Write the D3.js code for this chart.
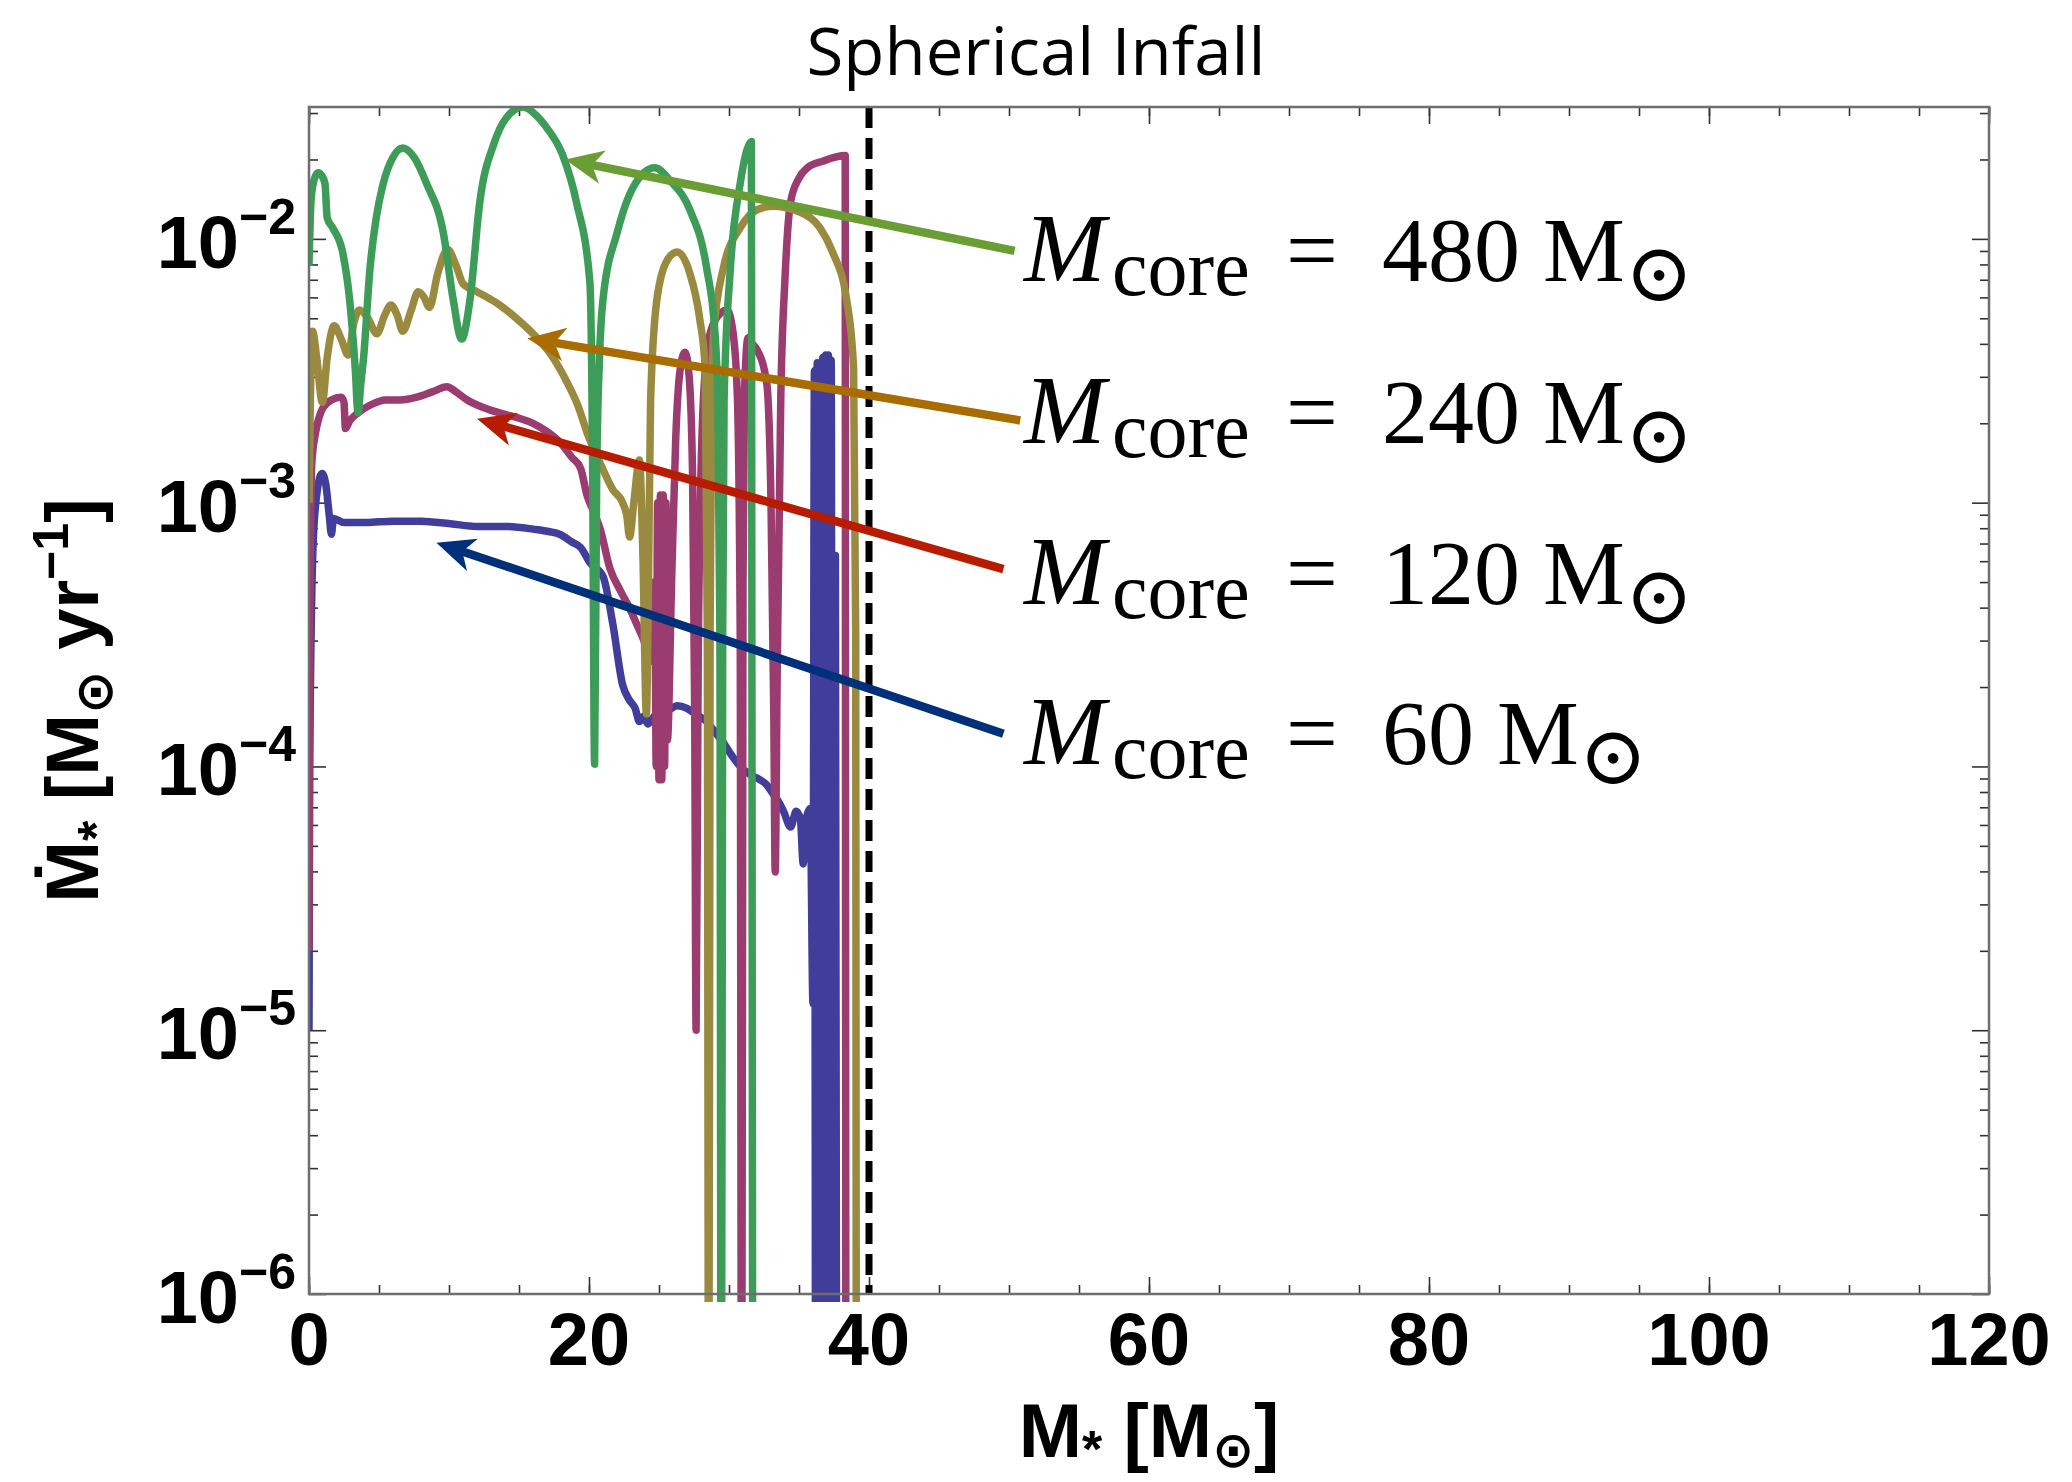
<!DOCTYPE html>
<html>
<head>
<meta charset="utf-8">
<script src="https://cdn.jsdelivr.net/npm/d3@7"></script>
<style>
  body { margin: 0; background: #fff; }
  svg { display: block; }
</style>
</head>
<body>
<div id="chart"></div>
<script>
// accretion rate vs stellar mass: [M* (Msun), Mdot (Msun/yr)]
// 1e-7 means "runs off the bottom of the plot"
const core480 = [[0,7.9e-3],[0.15,1.41e-2],[0.4,1.70e-2],[0.65,1.78e-2],[0.9,1.74e-2],[1.14,1.62e-2],[1.3,1.20e-2],
  [1.7,1.10e-2],[2.4,8.91e-3],[2.9,5.89e-3],[3.3,3.24e-3],[3.5,2.19e-3],[3.7,2.82e-3],[3.9,3.55e-3],[4.36,7.76e-3],
  [4.8,1.20e-2],[5.3,1.62e-2],[6.0,2.04e-2],[6.7,2.21e-2],[7.5,2.04e-2],[8.4,1.62e-2],[9.6,1.05e-2],[10.3,5.89e-3],
  [10.9,4.17e-3],[11.5,5.89e-3],[12.2,1.38e-2],[13.2,2.29e-2],[14.1,2.88e-2],[15.3,3.16e-2],[16.2,2.95e-2],
  [17.0,2.63e-2],[18.1,2.09e-2],[19.1,1.38e-2],[20.07,6.76e-3],[20.25,1.58e-3],[20.4,1.02e-4],[20.55,1.26e-3],
  [20.75,3.55e-3],[21.0,5.89e-3],[22.0,1.05e-2],[23.1,1.55e-2],[24.7,1.86e-2],[25.8,1.66e-2],[27.2,1.29e-2],
  [28.4,7.76e-3],[29.0,4.37e-3],[29.2,2.45e-3],[29.35,3.16e-4],[29.45,1e-7],[29.55,3.16e-4],[29.65,2.45e-3],
  [30.1,7.76e-3],[30.8,1.62e-2],[31.3,2.19e-2],[31.6,2.34e-2],[31.7,1e-7]];

const core240 = [[0,1.0e-3],[0.1,2.51e-3],[0.25,4.47e-3],[0.55,3.55e-3],[0.95,2.40e-3],[1.3,3.55e-3],[1.8,4.68e-3],
  [2.3,4.17e-3],[2.8,3.63e-3],[3.2,4.79e-3],[3.6,5.37e-3],[4.2,5.01e-3],[4.85,4.37e-3],[5.4,5.13e-3],[5.85,5.62e-3],
  [6.3,5.13e-3],[6.7,4.47e-3],[7.3,5.37e-3],[7.8,6.31e-3],[8.2,6.03e-3],[8.6,5.50e-3],[9.2,7.41e-3],[9.9,9.12e-3],
  [10.5,7.94e-3],[11.0,6.76e-3],[12.0,6.31e-3],[13.6,5.62e-3],[15.0,4.90e-3],[16.0,4.37e-3],[17.3,3.63e-3],
  [18.4,2.88e-3],[19.2,2.34e-3],[19.9,1.82e-3],[20.8,1.41e-3],[21.7,1.12e-3],[22.4,1.0e-3],[22.7,8.91e-4],
  [22.9,7.41e-4],[23.2,1.0e-3],[23.6,1.45e-3],[23.85,6.31e-4],[24.1,1.58e-4],[24.25,5.01e-4],[24.4,2.45e-3],
  [24.85,5.89e-3],[25.6,8.32e-3],[26.3,8.91e-3],[27.2,7.41e-3],[27.9,5.01e-3],[28.3,3.24e-3],[28.45,3.16e-4],
  [28.55,1e-7],[28.65,3.16e-4],[28.9,4.37e-3],[29.6,7.76e-3],[30.8,1.10e-2],[32.0,1.29e-2],[33.1,1.33e-2],
  [35.1,1.26e-2],[36.5,1.10e-2],[37.4,8.91e-3],[38.4,5.89e-3],[38.9,3.24e-3],[39.05,3.16e-4],[39.1,1e-7]];

const core120 = [[0,2.0e-5],[0.05,3.16e-4],[0.2,1.41e-3],[0.45,1.82e-3],[0.7,2.09e-3],[1.0,2.29e-3],[1.6,2.45e-3],
  [2.3,2.51e-3],[2.5,2.40e-3],[2.6,1.91e-3],[2.9,2.04e-3],[3.5,2.19e-3],[4.35,2.34e-3],[5.5,2.45e-3],[6.5,2.45e-3],
  [7.7,2.51e-3],[8.8,2.63e-3],[9.85,2.75e-3],[10.5,2.63e-3],[11.3,2.45e-3],[12.5,2.29e-3],[13.6,2.19e-3],
  [15.0,2.09e-3],[16.0,2.0e-3],[17.0,1.86e-3],[17.9,1.70e-3],[18.8,1.48e-3],[19.4,1.35e-3],[19.85,1.07e-3],
  [20.3,9.33e-4],[20.8,7.94e-4],[21.5,5.62e-4],[22.2,4.68e-4],[22.9,3.98e-4],[23.4,3.47e-4],[23.9,3.02e-4],
  [24.4,2.51e-4],[24.7,5.01e-4],[24.8,1.0e-4],[24.9,1.0e-3],[25.0,8.91e-5],[25.1,1.07e-3],[25.2,8.91e-5],
  [25.3,1.07e-3],[25.4,1.0e-4],[25.5,1.0e-3],[25.6,1.26e-4],[25.9,5.01e-4],[26.2,1.78e-3],[26.5,3.16e-3],
  [26.86,3.72e-3],[27.15,3.02e-3],[27.4,1.26e-3],[27.55,1.58e-4],[27.65,1.0e-5],[27.8,2.51e-4],[28.1,2.0e-3],
  [28.5,3.98e-3],[29.0,4.90e-3],[29.86,5.37e-3],[30.3,4.37e-3],[30.6,2.51e-3],[30.8,3.16e-4],[30.9,1e-7],
  [31.0,5.01e-4],[31.1,2.51e-3],[31.36,4.22e-3],[31.7,3.98e-3],[32.0,3.80e-3],[32.7,2.82e-3],[33.0,1.0e-3],
  [33.2,1.58e-4],[33.3,3.98e-5],[33.45,2.51e-4],[33.7,2.51e-3],[34.0,7.08e-3],[34.4,1.38e-2],[35.0,1.70e-2],
  [35.6,1.86e-2],[36.7,1.97e-2],[38.3,2.07e-2],[38.35,1e-7]];

const core60 = [[0,1.0e-5],[0.05,1.0e-4],[0.3,7.08e-4],[0.6,1.12e-3],[0.93,1.29e-3],[1.2,1.17e-3],[1.45,8.91e-4],
  [1.6,7.59e-4],[1.75,8.71e-4],[2.5,8.41e-4],[4.1,8.41e-4],[6.0,8.51e-4],[8.0,8.51e-4],[10.1,8.32e-4],
  [12.0,8.13e-4],[14.0,8.13e-4],[16.0,7.94e-4],[17.2,7.76e-4],[17.9,7.59e-4],[18.8,7.08e-4],[19.4,6.76e-4],
  [20.1,5.89e-4],[21.0,5.25e-4],[21.7,3.47e-4],[22.4,2.04e-4],[22.9,1.78e-4],[23.3,1.66e-4],[23.6,1.48e-4],
  [23.9,1.55e-4],[24.2,1.45e-4],[24.5,1.51e-4],[24.8,1.58e-4],[25.6,1.62e-4],[26.3,1.70e-4],[27.0,1.66e-4],
  [27.6,1.58e-4],[28.4,1.48e-4],[29.0,1.35e-4],[29.6,1.23e-4],[30.2,1.10e-4],[30.8,1.0e-4],[31.5,9.33e-5],
  [32.2,8.91e-5],[32.7,8.51e-5],[33.1,7.94e-5],[33.5,7.41e-5],[33.9,6.76e-5],[34.4,5.89e-5],[34.8,6.76e-5],
  [35.1,6.31e-5],[35.3,4.27e-5],[35.5,6.31e-5],[35.8,6.92e-5],[36.0,1.26e-5],[36.1,3.16e-3],[36.2,1e-7],
  [36.3,3.39e-3],[36.4,1e-7],[36.5,3.39e-3],[36.6,1e-7],[36.7,3.55e-3],[36.8,1e-7],[36.9,3.63e-3],[37.0,1e-7],
  [37.1,3.63e-3],[37.2,1e-7],[37.3,3.47e-3],[37.4,1e-7],[37.6,6.31e-4],[37.7,1e-7]];

const coreMasses = ['480', '240', '120', '60'];
const curveColors = ['#3e9c59', '#9a8a3f', '#9a3c70', '#413d9a'];
const arrowColors = ['#6a9e35', '#a86c00', '#b81c00', '#00307a'];
// arrow tails (near the labels) and tips (on the curves), same units as the data
const arrowTail = [[50.4, 9.0e-3], [50.8, 2.05e-3], [49.6, 5.6e-4], [49.6, 1.33e-4]];
const arrowTip = [[18.3, 2.0e-2], [15.6, 4.2e-3], [12.0, 2.08e-3], [9.1, 7.05e-4]];

const xTicks = [0, 20, 40, 60, 80, 100, 120];
const yDecades = [1e-6, 1e-5, 1e-4, 1e-3, 1e-2];
const dashedMass = 40;

const width = 2072, height = 1482;
const margin = {top: 107, right: 83, bottom: 188, left: 309};

const svg = d3.select('#chart').append('svg')
  .attr('width', width)
  .attr('height', height);

const x = d3.scaleLinear()
  .domain([0, 120])
  .range([margin.left, width - margin.right]);
const y = d3.scaleLog()
  .domain([1e-6, Math.pow(10, -1.5)])
  .range([height - margin.bottom, margin.top]);

const x0 = x.range()[0], x1 = x.range()[1];
const yb = y.range()[0], yt = y.range()[1];

svg.append('clipPath').attr('id', 'plot-clip')
  .append('rect')
  .attr('x', x0).attr('y', yt)
  .attr('width', x1 - x0).attr('height', yb - yt + 8);

// ticks (all inside the frame)
const xMinor = d3.range(0, 121, 5);
const yMinor = [];
yDecades.forEach(d => d3.range(2, 10).forEach(k => {
  const v = d * k;
  if (v <= y.domain()[1]) yMinor.push(v);
}));

function tickAxis(axis, scale, values, size, tx, ty) {
  const g = svg.append('g')
    .attr('transform', `translate(${tx},${ty})`)
    .call(axis(scale).tickValues(values).tickSize(-size).tickFormat(''));
  g.select('.domain').remove();
  g.selectAll('.tick line').attr('stroke', '#333').attr('stroke-width', 1.6);
}
tickAxis(d3.axisBottom, x, xMinor, 9, 0, yb);
tickAxis(d3.axisBottom, x, xTicks, 17, 0, yb);
tickAxis(d3.axisTop, x, xMinor, 9, 0, yt);
tickAxis(d3.axisTop, x, xTicks, 17, 0, yt);
tickAxis(d3.axisLeft, y, yMinor, 9, x0, 0);
tickAxis(d3.axisLeft, y, yDecades, 17, x0, 0);
tickAxis(d3.axisRight, y, yMinor, 9, x1, 0);
tickAxis(d3.axisRight, y, yDecades, 17, x1, 0);

// curves
const line = d3.line()
  .x(d => x(d[0]))
  .y(d => y(d[1]))
  .curve(d3.curveMonotoneX);

const series = [core60, core120, core240, core480];
const seriesColors = [curveColors[3], curveColors[2], curveColors[1], curveColors[0]];
svg.append('g')
  .attr('clip-path', 'url(#plot-clip)')
  .selectAll('path')
  .data(series)
  .join('path')
  .attr('d', line)
  .attr('fill', 'none')
  .attr('stroke', (d, i) => seriesColors[i])
  .attr('stroke-width', 7.5)
  .attr('stroke-linejoin', 'round');

// dashed line
svg.append('line')
  .attr('x1', x(dashedMass)).attr('x2', x(dashedMass))
  .attr('y1', yt).attr('y2', yb)
  .attr('stroke', '#000')
  .attr('stroke-width', 7)
  .attr('stroke-dasharray', '21,10');

// frame
svg.append('rect')
  .attr('x', x0).attr('y', yt)
  .attr('width', x1 - x0).attr('height', yb - yt)
  .attr('fill', 'none')
  .attr('stroke', '#6e6e6e')
  .attr('stroke-width', 2.5);

// arrows
const arrows = svg.append('g');
arrowTail.forEach((t, i) => {
  const ax = x(t[0]), ay = y(t[1]);
  const bx = x(arrowTip[i][0]), by = y(arrowTip[i][1]);
  const len = Math.hypot(bx - ax, by - ay);
  const ux = (bx - ax) / len, uy = (by - ay) / len;
  const nx = -uy, ny = ux;
  const L = 38, Wd = 17;
  arrows.append('line')
    .attr('x1', ax).attr('y1', ay)
    .attr('x2', bx - ux * 22).attr('y2', by - uy * 22)
    .attr('stroke', arrowColors[i])
    .attr('stroke-width', 8.5);
  const pts = [
    [bx, by],
    [bx - ux * L + nx * Wd, by - uy * L + ny * Wd],
    [bx - ux * L * 0.72, by - uy * L * 0.72],
    [bx - ux * L - nx * Wd, by - uy * L - ny * Wd]
  ];
  arrows.append('path')
    .attr('d', 'M' + pts.map(p => p.join(',')).join('L') + 'Z')
    .attr('fill', arrowColors[i]);
});

// core mass labels
const labelX = 1024;
const labelBase = [281, 443, 604, 764];
coreMasses.forEach((m, i) => {
  const t = svg.append('text')
    .attr('x', labelX).attr('y', labelBase[i])
    .attr('font-family', '"Liberation Serif", "DejaVu Serif", serif')
    .attr('font-size', 92)
    .attr('fill', '#000');
  t.append('tspan').attr('font-style', 'italic').attr('font-size', 98).text('M');
  t.append('tspan').attr('x', labelX + 88).attr('dy', 14).attr('font-size', 80).text('core');
  t.append('tspan').attr('x', labelX + 262).attr('dy', -14).text('=');
  t.append('tspan').attr('x', labelX + 358).text(m + ' M');
  t.append('tspan').attr('dy', 20).attr('font-size', 82)
    .attr('font-family', '"DejaVu Serif", serif').text('\u2299');
});

// tick labels
const bold = '"Liberation Sans", Arial, Helvetica, sans-serif';
svg.append('g').selectAll('text')
  .data(xTicks)
  .join('text')
  .attr('x', d => x(d))
  .attr('y', yb + 71)
  .attr('text-anchor', 'middle')
  .attr('font-family', bold)
  .attr('font-weight', 'bold')
  .attr('font-size', 74)
  .text(d => d);

const yLab = svg.append('g').selectAll('text')
  .data(yDecades)
  .join('text')
  .attr('x', x0 - 13)
  .attr('y', d => y(d) + 29)
  .attr('text-anchor', 'end')
  .attr('font-family', bold)
  .attr('font-weight', 'bold')
  .attr('font-size', 74);
yLab.append('tspan').text('10');
yLab.append('tspan').attr('dy', -34).attr('font-size', 50)
  .text(d => '\u2212' + Math.round(-Math.log10(d)));

// axis titles
const xTitle = svg.append('text')
  .attr('x', (x0 + x1) / 2)
  .attr('y', 1457)
  .attr('text-anchor', 'middle')
  .attr('font-family', bold)
  .attr('font-weight', 'bold')
  .attr('font-size', 76);
xTitle.append('tspan').text('M');
xTitle.append('tspan').attr('dy', 10).attr('font-size', 52).text('*');
xTitle.append('tspan').attr('dy', -10).text(' [M');
xTitle.append('tspan').attr('dy', 10).attr('font-size', 50)
  .attr('font-family', '"DejaVu Sans", sans-serif').text('\u2299');
xTitle.append('tspan').attr('dy', -10).text(']');

const yTitle = svg.append('text')
  .attr('transform', `translate(98,${(yt + yb) / 2}) rotate(-90)`)
  .attr('text-anchor', 'middle')
  .attr('font-family', bold)
  .attr('font-weight', 'bold')
  .attr('font-size', 74);
yTitle.append('tspan').text('\u1E40');
yTitle.append('tspan').attr('dy', 16).attr('font-size', 52).text('*');
yTitle.append('tspan').attr('dy', -16).text(' [M');
yTitle.append('tspan').attr('dy', 14).attr('font-size', 52)
  .attr('font-family', '"DejaVu Sans", sans-serif').text('\u2299');
yTitle.append('tspan').attr('dy', -14).text(' yr');
yTitle.append('tspan').attr('dy', -30).attr('font-size', 50).text('\u22121');
yTitle.append('tspan').attr('dy', 30).text(']');

// title
svg.append('text')
  .attr('x', width / 2)
  .attr('y', 75)
  .attr('text-anchor', 'middle')
  .attr('font-family', '"Open Sans", Lato, sans-serif')
  .attr('font-size', 66)
  .attr('textLength', 459)
  .attr('lengthAdjust', 'spacingAndGlyphs')
  .text('Spherical Infall');
</script>
</body>
</html>
